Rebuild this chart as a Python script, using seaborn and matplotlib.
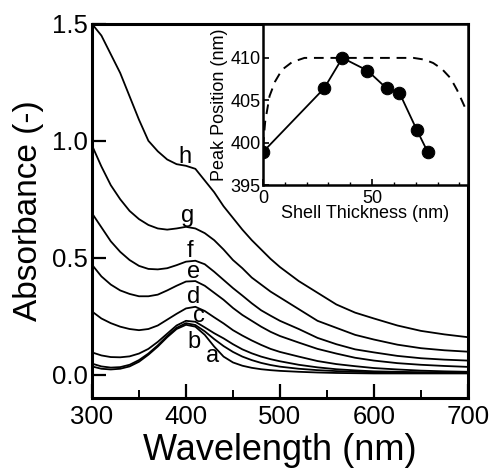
"""Absorbance spectra of core-shell particles with inset of peak position vs shell thickness."""

import matplotlib
matplotlib.use("Agg")
import matplotlib.pyplot as plt
from matplotlib.ticker import FormatStrFormatter, MultipleLocator
import pandas as pd
import seaborn as sns

# wavelength grid (nm) shared by all spectra
wavelength = [300, 310, 320, 330, 340, 350, 360, 370, 380, 390, 400, 410, 420, 430, 440,
              450, 460, 470, 480, 490, 500, 520, 540, 560, 580, 600, 625, 650, 675, 700]

spec_a = [0.035, 0.025, 0.022, 0.025, 0.035, 0.055, 0.085, 0.12, 0.16, 0.195, 0.213, 0.205, 0.17, 0.12, 0.077,
          0.052, 0.038, 0.029, 0.023, 0.019, 0.016, 0.012, 0.009, 0.007, 0.006, 0.005, 0.005, 0.005, 0.005, 0.005]
spec_b = [0.047, 0.035, 0.03, 0.032, 0.042, 0.062, 0.09, 0.125, 0.165, 0.2, 0.22, 0.212, 0.185, 0.152, 0.122,
          0.097, 0.077, 0.062, 0.05, 0.041, 0.034, 0.025, 0.019, 0.015, 0.012, 0.01, 0.009, 0.008, 0.008, 0.008]
spec_c = [0.095, 0.082, 0.075, 0.074, 0.078, 0.09, 0.11, 0.14, 0.175, 0.21, 0.23, 0.226, 0.202, 0.177, 0.155,
          0.13, 0.108, 0.091, 0.077, 0.066, 0.057, 0.042, 0.031, 0.023, 0.018, 0.014, 0.012, 0.01, 0.009, 0.008]
spec_d = [0.27, 0.24, 0.22, 0.205, 0.195, 0.19, 0.195, 0.21, 0.235, 0.26, 0.283, 0.29, 0.272, 0.245, 0.219,
          0.19, 0.167, 0.146, 0.127, 0.11, 0.097, 0.077, 0.058, 0.045, 0.036, 0.028, 0.022, 0.017, 0.014, 0.012]
spec_e = [0.47, 0.42, 0.385, 0.36, 0.345, 0.335, 0.335, 0.342, 0.36, 0.38, 0.398, 0.4, 0.38, 0.35, 0.32,
          0.285, 0.255, 0.23, 0.205, 0.183, 0.165, 0.137, 0.11, 0.09, 0.072, 0.06, 0.049, 0.042, 0.037, 0.033]
spec_f = [0.69, 0.63, 0.57, 0.525, 0.49, 0.465, 0.452, 0.45, 0.455, 0.468, 0.483, 0.487, 0.472, 0.44, 0.405,
          0.37, 0.338, 0.305, 0.275, 0.252, 0.23, 0.195, 0.157, 0.13, 0.108, 0.095, 0.08, 0.07, 0.064, 0.06]
spec_g = [0.98, 0.89, 0.81, 0.75, 0.7, 0.665, 0.64, 0.625, 0.62, 0.625, 0.632, 0.625, 0.605, 0.575, 0.535,
          0.49, 0.455, 0.415, 0.385, 0.355, 0.33, 0.28, 0.23, 0.2, 0.17, 0.15, 0.128, 0.113, 0.104, 0.098]
spec_h = [1.5, 1.45, 1.37, 1.29, 1.19, 1.09, 1.0, 0.955, 0.92, 0.9, 0.893, 0.88, 0.83, 0.78, 0.72,
          0.67, 0.62, 0.575, 0.535, 0.495, 0.46, 0.4, 0.35, 0.3, 0.265, 0.24, 0.21, 0.187, 0.172, 0.16]

curve_names = ["a", "b", "c", "d", "e", "f", "g", "h"]
# label anchor points (wavelength, absorbance)
label_wl = [428, 408.5, 414, 408, 408, 404.5, 402, 399]
label_abs = [0.079, 0.139, 0.25, 0.33, 0.44, 0.529, 0.679, 0.932]

# inset: measured peak positions
shell_thickness = [0, 28, 36.4, 47.9, 56.7, 62.5, 70.5, 75.5]
peak_position = [398.9, 406.4, 410.0, 408.5, 406.4, 405.9, 401.5, 398.9]

# inset: calculated curve (dashed)
calc_thickness = [0, 1, 3, 5.5, 8.7, 13.3, 19, 30, 40, 55, 69, 74, 78, 82, 86, 89, 92.7]
calc_position = [399.5, 402.5, 405.5, 407.2, 408.6, 409.5, 410.0, 410.0, 410.0, 410.0, 410.0,
                 409.8, 409.4, 408.7, 407.6, 406.2, 404.1]


def main() -> None:
    sns.set_style("ticks", {"axes.edgecolor": "black", "xtick.color": "black",
                            "ytick.color": "black", "text.color": "black",
                            "axes.labelcolor": "black"})
    plt.rcParams["font.family"] = ["Liberation Sans", "DejaVu Sans"]

    spectra = [spec_a, spec_b, spec_c, spec_d, spec_e, spec_f, spec_g, spec_h]
    df = pd.concat(
        [pd.DataFrame({"wl": wavelength, "abs": s, "sample": n}) for n, s in zip(curve_names, spectra)],
        ignore_index=True,
    )

    fig = plt.figure(figsize=(4.92, 4.68), dpi=100)
    ax = fig.add_axes([0.187, 0.1496, 0.764, 0.7994])

    for name in curve_names:
        sub = df[df["sample"] == name]
        sns.lineplot(data=sub, x="wl", y="abs", ax=ax, color="black", linewidth=1.3,
                     legend=False)

    for name, lx, ly in zip(curve_names, label_wl, label_abs):
        ax.text(lx, ly, name, fontsize=17, ha="center", va="center")

    ax.set_xlim(300, 700)
    ax.set_ylim(-0.1, 1.5)
    ax.xaxis.set_major_locator(MultipleLocator(100))
    ax.xaxis.set_minor_locator(MultipleLocator(50))
    ax.yaxis.set_major_locator(MultipleLocator(0.5))
    ax.yaxis.set_major_formatter(FormatStrFormatter("%.1f"))
    ax.tick_params(axis="both", which="major", direction="in", length=10, width=1.6,
                   labelsize=18.5, pad=3)
    ax.tick_params(axis="x", which="minor", direction="in", length=5.5, width=1.4)
    ax.tick_params(axis="x", which="major", pad=5)
    for sp in ax.spines.values():
        sp.set_linewidth(2.2)
    ax.set_xlabel("Wavelength (nm)", fontsize=26, labelpad=3)
    ax.set_ylabel("Absorbance (-)", fontsize=24, labelpad=6)

    # inset
    ins = fig.add_axes([0.5346, 0.6047, 0.4167, 0.344])
    ins.set_facecolor("white")
    sns.lineplot(x=calc_thickness, y=calc_position, ax=ins, color="black", linewidth=1.4,
                 linestyle=(0, (5, 3.5)))
    sns.lineplot(x=shell_thickness, y=peak_position, ax=ins, color="black", linewidth=1.3,
                 marker="o", markersize=9, markeredgecolor="black")
    ins.set_xlim(0, 94)
    ins.set_ylim(395, 414)
    ins.xaxis.set_major_locator(MultipleLocator(50))
    ins.xaxis.set_minor_locator(MultipleLocator(10))
    ins.yaxis.set_major_locator(MultipleLocator(5))
    ins.tick_params(axis="both", which="major", direction="in", length=4, width=1.2,
                    labelsize=13, pad=1.5)
    ins.tick_params(axis="x", which="major", pad=3.5)
    ins.tick_params(axis="x", which="minor", direction="in", length=2.5, width=1.0)
    for sp in ins.spines.values():
        sp.set_linewidth(1.8)
    ins.set_xlabel("Shell Thickness (nm)", fontsize=13, labelpad=-1)
    ins.set_ylabel("Peak Position (nm)", fontsize=13, labelpad=2)

    fig.savefig("out.png", dpi=100)
    plt.close(fig)


if __name__ == "__main__":
    main()
